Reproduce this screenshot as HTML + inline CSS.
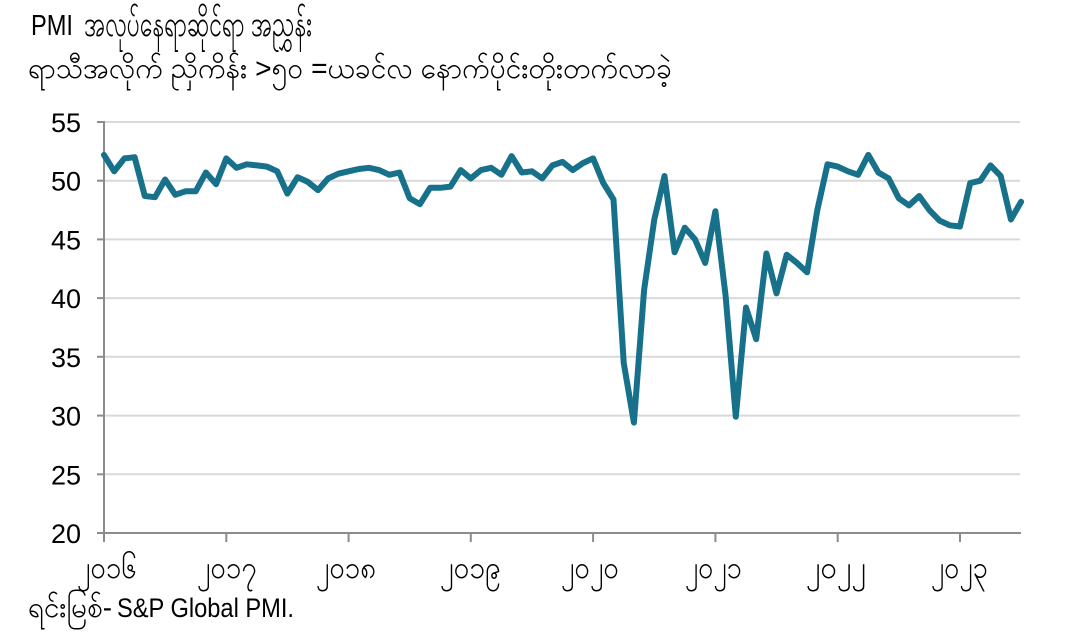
<!DOCTYPE html>
<html><head><meta charset="utf-8"><style>
html,body{margin:0;padding:0;background:#fff;}
svg{display:block;}
text{font-family:"Liberation Sans","DejaVu Sans",sans-serif;fill:#000;}
</style></head><body>
<svg width="1067" height="641" viewBox="0 0 1067 641" xmlns="http://www.w3.org/2000/svg">
<rect width="1067" height="641" fill="#fff"/>
<text x="31" y="35" font-size="29" textLength="42" lengthAdjust="spacingAndGlyphs">PMI</text>
<text x="84" y="36" font-size="37" textLength="228" lengthAdjust="spacingAndGlyphs">အလုပ်နေရာဆိုင်ရာ အညွှန်း</text>
<text x="28" y="78" font-size="29" textLength="644" lengthAdjust="spacingAndGlyphs">ရာသီအလိုက် ညှိကိန်း &gt;၅၀ =ယခင်လ နောက်ပိုင်းတိုးတက်လာခဲ့</text>
<g stroke="#d9d9d9" stroke-width="2">
<line x1="104" y1="122" x2="1020" y2="122"/>
<line x1="104" y1="180.7" x2="1020" y2="180.7"/>
<line x1="104" y1="239.4" x2="1020" y2="239.4"/>
<line x1="104" y1="298.1" x2="1020" y2="298.1"/>
<line x1="104" y1="356.8" x2="1020" y2="356.8"/>
<line x1="104" y1="415.6" x2="1020" y2="415.6"/>
<line x1="104" y1="474.3" x2="1020" y2="474.3"/>
</g>
<g stroke="#8c8c8c" stroke-width="2">
<line x1="104" y1="121" x2="104" y2="533"/>
<line x1="97" y1="533" x2="1021" y2="533"/>
<line x1="97" y1="122" x2="104" y2="122"/>
<line x1="97" y1="180.7" x2="104" y2="180.7"/>
<line x1="97" y1="239.4" x2="104" y2="239.4"/>
<line x1="97" y1="298.1" x2="104" y2="298.1"/>
<line x1="97" y1="356.8" x2="104" y2="356.8"/>
<line x1="97" y1="415.6" x2="104" y2="415.6"/>
<line x1="97" y1="474.3" x2="104" y2="474.3"/>
<line x1="104" y1="533" x2="104" y2="542"/>
<line x1="226.3" y1="533" x2="226.3" y2="542"/>
<line x1="348.6" y1="533" x2="348.6" y2="542"/>
<line x1="470.8" y1="533" x2="470.8" y2="542"/>
<line x1="593.1" y1="533" x2="593.1" y2="542"/>
<line x1="715.4" y1="533" x2="715.4" y2="542"/>
<line x1="837.7" y1="533" x2="837.7" y2="542"/>
<line x1="960" y1="533" x2="960" y2="542"/>
</g>
<g font-size="27" text-anchor="end">
<text x="81" y="132">55</text>
<text x="81" y="190.7">50</text>
<text x="81" y="249.4">45</text>
<text x="81" y="308.1">40</text>
<text x="81" y="366.8">35</text>
<text x="81" y="425.6">30</text>
<text x="81" y="484.3">25</text>
<text x="81" y="543">20</text>
</g>
<g font-size="31">
<text x="77" y="578" textLength="60" lengthAdjust="spacingAndGlyphs">၂၀၁၆</text>
<text x="197" y="578" textLength="60" lengthAdjust="spacingAndGlyphs">၂၀၁၇</text>
<text x="316" y="578" textLength="60" lengthAdjust="spacingAndGlyphs">၂၀၁၈</text>
<text x="440" y="578" textLength="61" lengthAdjust="spacingAndGlyphs">၂၀၁၉</text>
<text x="561" y="578" textLength="58" lengthAdjust="spacingAndGlyphs">၂၀၂၀</text>
<text x="685" y="578" textLength="57" lengthAdjust="spacingAndGlyphs">၂၀၂၁</text>
<text x="806" y="578" textLength="60" lengthAdjust="spacingAndGlyphs">၂၀၂၂</text>
<text x="931" y="578" textLength="57" lengthAdjust="spacingAndGlyphs">၂၀၂၃</text>
</g>
<text x="28" y="617" font-size="29" textLength="84" lengthAdjust="spacingAndGlyphs">ရင်းမြစ်-</text>
<text x="117" y="617" font-size="27" textLength="177" lengthAdjust="spacingAndGlyphs">S&amp;P Global PMI.</text>
<polyline fill="none" stroke="#17718b" stroke-width="6" stroke-linejoin="round" stroke-linecap="round" points="104,154.9 114.2,171.3 124.4,158.4 134.6,157.2 144.8,196 155,197.2 165.1,179.5 175.3,194.8 185.5,191.3 195.7,191.3 205.9,172.5 216.1,184.2 226.3,158.4 236.5,167.8 246.7,164.3 256.9,165.4 267,166.6 277.2,171.3 287.4,193.6 297.6,177.2 307.8,181.9 318,190.1 328.2,178.4 338.4,173.7 348.6,171.3 358.8,169 368.9,167.8 379.1,170.1 389.3,174.8 399.5,172.5 409.7,198.3 419.9,204.2 430.1,187.8 440.3,187.8 450.5,186.6 460.7,170.1 470.8,178.4 481,170.1 491.2,167.8 501.4,174.8 511.6,156.1 521.8,172.5 532,171.3 542.2,178.4 552.4,165.4 562.6,161.9 572.7,170.1 582.9,163.1 593.1,158.4 603.3,183.1 613.5,199.5 623.7,362.7 633.9,422.6 644.1,289.9 654.3,219.5 664.5,176 674.6,252.3 684.8,227.7 695,239.4 705.2,262.9 715.4,211.2 725.6,295.8 735.8,416.7 746,307.5 756.2,339.2 766.4,253.5 776.5,293.4 786.7,254.7 796.9,262.9 807.1,272.3 817.3,210.1 827.5,164.3 837.7,166.6 847.9,171.3 858.1,174.8 868.3,154.9 878.4,172.5 888.6,178.4 898.8,198.3 909,205.4 919.2,196 929.4,210.1 939.6,220.6 949.8,225.3 960,226.5 970.2,183.1 980.3,180.7 990.5,165.4 1000.7,176 1010.9,219.5 1021.1,201.8"/>
</svg>
</body></html>
